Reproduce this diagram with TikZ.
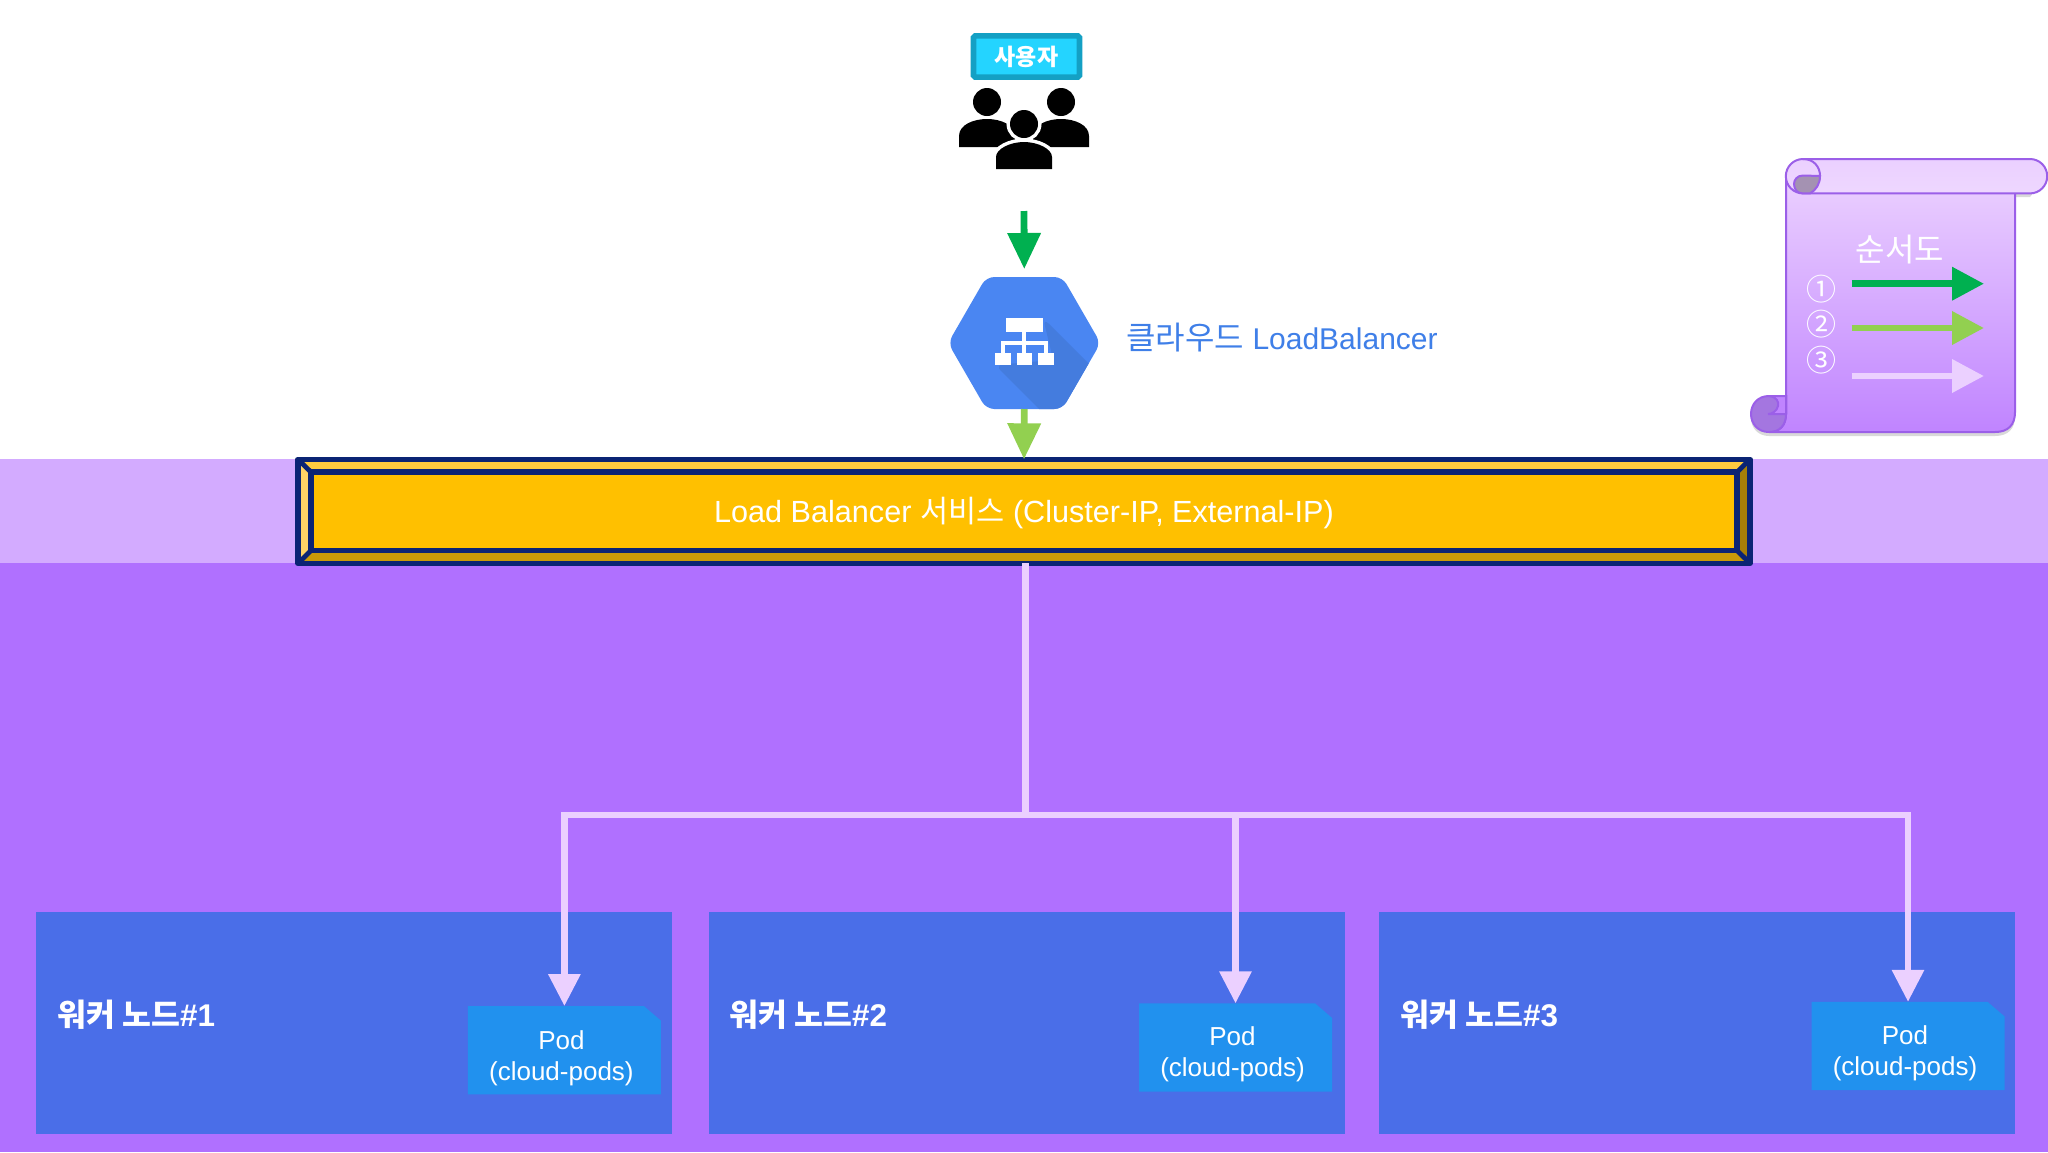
\documentclass[tikz,border=0pt]{standalone}
\usepackage{fontspec}
\setmainfont{Liberation Sans}
\newfontfamily\kr{Noto Sans CJK KR}
\usetikzlibrary{arrows.meta,shapes.geometric}

\definecolor{bandlight}{HTML}{D3ABFF}
\definecolor{banddark}{HTML}{B070FF}
\definecolor{navy}{HTML}{0B2474}
\definecolor{gold}{HTML}{FFC000}
\definecolor{goldtop}{HTML}{FFCB3F}
\definecolor{goldleft}{HTML}{FFD366}
\definecolor{goldbottom}{HTML}{C99A08}
\definecolor{goldright}{HTML}{A77F08}
\definecolor{stepone}{HTML}{00B050}
\definecolor{steptwo}{HTML}{92D050}
\definecolor{stepthree}{HTML}{EBD0FF}
\definecolor{hexblue}{HTML}{4A86F2}
\definecolor{hexshade}{HTML}{447CDE}
\definecolor{lbblue}{HTML}{3F7FE8}
\definecolor{workerblue}{HTML}{4A6EE8}
\definecolor{podblue}{HTML}{2191EE}
\definecolor{badgeedge}{HTML}{14A0C4}
\definecolor{badgefill}{HTML}{24D4FF}
\definecolor{scrolledge}{HTML}{9B5FE8}
\definecolor{scrollend}{HTML}{C084FF}
\definecolor{curldark}{HTML}{A476E0}

\tikzset{
	workerbox/.style={fill=workerblue, minimum width=318pt, minimum height=111pt, inner sep=0pt},
	workerlabel/.style={anchor=west, text=white, font=\fontsize{15.7}{18}\selectfont\bfseries},
	podbox/.style={minimum width=96.5pt, minimum height=44.2pt, inner sep=0pt, outer sep=0pt},
	podlabel/.style={text=white, align=center, font=\fontsize{13}{15.6}\selectfont},
	flowone/.style={draw=stepone, line width=3.4pt, -{Triangle[length=18pt,width=16pt]}},
	flowtwo/.style={draw=steptwo, line width=3.4pt, -{Triangle[length=18pt,width=16pt]}},
	flowthree/.style={draw=stepthree, line width=3.2pt, -{Triangle[length=16pt,width=15.5pt]}},
	trunk/.style={draw=stepthree, line width=3.2pt},
	stepnum/.style={text=white, font=\fontsize{15}{15}\selectfont\kr},
	halo/.style={preaction={draw=white, line width=3.5pt}},
}

\begin{document}
\begin{tikzpicture}[x=0.5pt, y=-0.5pt]
\useasboundingbox (0,0) rectangle (2048,1152);

\fill[white] (0,0) rectangle (2048,459);
\fill[bandlight] (0,459) rectangle (2048,563);
\fill[banddark] (0,563) rectangle (2048,1152);

% user group
\node[draw=badgeedge, line width=2.8pt, fill=badgefill, rounded corners=0.8pt, minimum width=53pt, minimum height=20.6pt, inner sep=0pt, text=white, font=\fontsize{11.5}{13}\selectfont\kr\bfseries] (badge) at (1026.5,56.5) {사용자};
\foreach \x in {987, 1061}
{
	\fill (\x,102) circle (14);
	\fill (\x-28,147) -- (\x-28,136) .. controls (\x-28,125) and (\x-14,119) .. (\x,119) .. controls (\x+14,119) and (\x+28,125) .. (\x+28,136) -- (\x+28,147) -- cycle;
}
\fill[halo] (1024,124) circle (14);
\fill[halo] (996,169) -- (996,157) .. controls (996,149) and (1010,142) .. (1024,142) .. controls (1038,142) and (1052,149) .. (1052,157) -- (1052,169) -- cycle;
\node[minimum width=65pt, minimum height=40pt, inner sep=0pt] (users) at (1024,128.5) {};
\coordinate (userout) at (1024,211);

% cloud load balancer
\node[regular polygon, regular polygon sides=6, minimum size=76.2pt, inner sep=0pt, outer sep=0pt, fill=hexblue, rounded corners=4pt,
	path picture={\fill[hexshade] (18.7,-25) -- (105.7,62) -- (105.7,87) -- (35.7,87) -- (-29.3,22) -- (29,17) -- cycle;}] (lbhex) at (1024.3,343) {};
\fill[white] (1005.6,318) rectangle (1043,332);
\foreach \x in {995, 1016.7, 1038.4}
{
	\fill[white] (\x,353) rectangle (\x+15.5,365);
}
\draw[white, line width=2.1pt] (1024.3,332) -- (1024.3,353);
\draw[white, line width=2.1pt] (1003,353) -- (1003,342.7) -- (1046,342.7) -- (1046,353);
\node[anchor=west, text=lbblue, inner sep=0pt, font=\fontsize{15}{18}\selectfont] (lbname) at (1126,338) {{\kr\fontsize{16}{18}\selectfont 클라우드} LoadBalancer};

% load balancer service
\node[minimum width=726pt, minimum height=52pt, inner sep=0pt, outer sep=0pt] (lbsvc) at (1024,511.3) {};
\node[minimum width=713pt, minimum height=39.2pt, inner sep=0pt, outer sep=0pt] (lbcore) at (1024,511.3) {};
\fill[goldtop] (lbsvc.north west) -- (lbsvc.north east) -- (lbcore.north east) -- (lbcore.north west) -- cycle;
\fill[goldleft] (lbsvc.north west) -- (lbcore.north west) -- (lbcore.south west) -- (lbsvc.south west) -- cycle;
\fill[goldbottom] (lbsvc.south west) -- (lbsvc.south east) -- (lbcore.south east) -- (lbcore.south west) -- cycle;
\fill[goldright] (lbsvc.north east) -- (lbcore.north east) -- (lbcore.south east) -- (lbsvc.south east) -- cycle;
\draw[navy, line width=2.8pt, line join=round] (lbsvc.north west) rectangle (lbsvc.south east);
\draw[navy, line width=2.8pt, fill=gold] (lbcore.north west) rectangle (lbcore.south east);
\foreach \c in {north west, north east, south west, south east}
{
	\draw[navy, line width=2.4pt] (lbsvc.\c) -- (lbcore.\c);
}
\node[text=white, font=\fontsize{15.3}{18}\selectfont] (lbtext) at (1024,513.5) {Load Balancer {\kr 서비스} (Cluster-IP, External-IP)};

% worker nodes
\foreach \n/\x/\lx/\px/\py/\ty in {1/354/57/564.4/1050.2/1058, 2/1027/729/1235.5/1047.5/1054, 3/1697/1400/1908/1046/1053}
{
	\node[workerbox] (worker\n) at (\x,1022.7) {};
	\node[workerlabel, inner sep=0pt] (workerlabel\n) at (\lx,1015) {{\kr 워커 노드}\#\n};
	\node[podbox] (pod\n) at (\px,\py) {};
	\fill[podblue] (pod\n.north west) -- ([xshift=-8.5pt]pod\n.north east) -- ([yshift=-7.3pt]pod\n.north east) -- (pod\n.south east) -- (pod\n.south west) -- cycle;
	\node[podlabel] (podlabel\n) at (\px-3,\ty) {Pod\\(cloud-pods)};
}

% connectors
\coordinate (branch) at (1025.3,815);
\draw[flowone, shorten >=4pt] (userout) -- (lbhex.north);
\draw[flowtwo] (lbhex.south) -- (lbsvc.north);
\draw[trunk] (lbsvc.south -| branch) -- (branch);
\foreach \n in {1,2,3}
{
	\draw[flowthree] (branch) -| (pod\n.north);
}

% order scroll
\fill[black, opacity=0.15, yshift=-2pt] (1786,176) -- (1786,396) -- (1769,396) .. controls (1758,396) and (1751,404) .. (1751,414) .. controls (1751,424) and (1758,432) .. (1769,432) -- (1995,432) .. controls (2008,432) and (2015,425) .. (2015,412) -- (2015,193) -- (2030,193) -- (2040,180) -- (2000,170) -- cycle;
\draw[scrolledge, line width=1pt, top color=stepthree, bottom color=scrollend] (1786,176) -- (1786,414) .. controls (1786,425) and (1780,432) .. (1769,432) -- (1995,432) .. controls (2008,432) and (2015,425) .. (2015,412) -- (2015,185) -- cycle;
\filldraw[draw=scrolledge, line width=1pt, fill=curldark] (1769,396) -- (1786,396) -- (1786,414) .. controls (1786,425) and (1780,432) .. (1769,432) .. controls (1758,432) and (1751,424) .. (1751,414) .. controls (1751,404) and (1758,396) .. (1769,396) -- cycle;
\filldraw[draw=scrolledge, line width=1pt, fill=scrollend] (1769,396) .. controls (1777,397) and (1779,402) .. (1778,406) .. controls (1777,411) and (1772,414) .. (1768,414) -- (1786,414) -- (1786,396) -- cycle;
\draw[scrolledge, line width=1pt, top color=stepthree, bottom color=stepthree!85!white] (1803,159) -- (2030,159) arc[start angle=-90, end angle=90, radius=17.2] -- (1803,193.4) arc[start angle=90, end angle=270, radius=17.2] -- cycle;
\filldraw[draw=scrolledge, line width=1pt, fill=black!30!stepthree] (1820,176) -- (1803,175.5) .. controls (1797,175.5) and (1794,180) .. (1794,184) .. controls (1794,190) and (1798,193.4) .. (1803,193.4) -- (1810,193.4) .. controls (1816,190) and (1820,184) .. cycle;
\draw[scrolledge, line width=1pt] (1803,159) .. controls (1814,159) and (1820,167) .. (1820,176);

\node[text=white, font=\fontsize{16}{18}\selectfont\kr] (ordertitle) at (1900,250) {순서도};
\node[stepnum] (numone) at (1821.7,289) {①};
\node[stepnum] (numtwo) at (1821.7,324) {②};
\node[stepnum] (numthree) at (1821.7,360) {③};
\coordinate (startone) at (1851.7,283.7);
\coordinate (endone) at (1984,283.7);
\coordinate (starttwo) at (1851.7,328);
\coordinate (endtwo) at (1984,328);
\coordinate (startthree) at (1851.7,376);
\coordinate (endthree) at (1984,376);
\draw[flowone, -{Triangle[length=16pt,width=16pt]}] (startone) -- (endone);
\draw[flowtwo, -{Triangle[length=16pt,width=16pt]}] (starttwo) -- (endtwo);
\draw[flowthree, line width=3.4pt, -{Triangle[length=16pt,width=16pt]}] (startthree) -- (endthree);

\end{tikzpicture}
\end{document}
